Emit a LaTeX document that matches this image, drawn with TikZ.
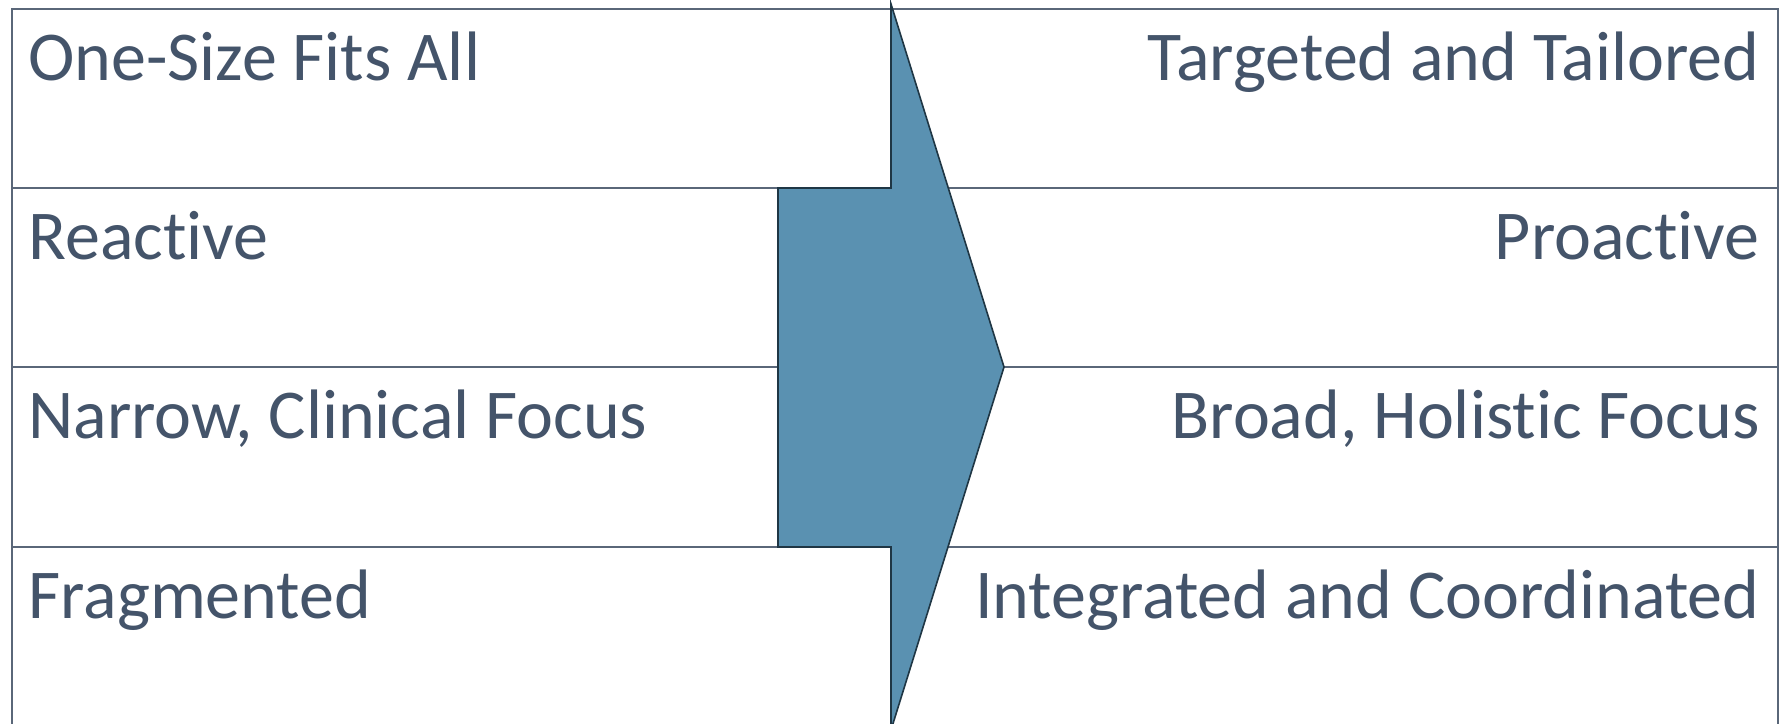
\documentclass[tikz,border=0pt]{standalone}
\usepackage{fontspec}
\setmainfont{Carlito}[Ligatures={NoCommon}]
\definecolor{slate}{HTML}{44546A}
\definecolor{rule}{HTML}{5A6779}
\definecolor{steel}{HTML}{5A91B1}
\definecolor{steeledge}{HTML}{1F3644}
\begin{document}
\begin{tikzpicture}[x=0.5pt,y=-0.5pt,
  cell/.style={draw=rule, line width=1pt, fill=white},
  lefttext/.style={anchor=base west, inner sep=0pt, text=slate, font=\fontsize{35}{42}\selectfont},
  righttext/.style={anchor=base east, inner sep=0pt, text=slate, font=\fontsize{35}{42}\selectfont},
  bigarrow/.style={fill=steel, draw=steeledge, line width=0.8pt, line join=miter}]
  \useasboundingbox (0,0) rectangle (1783,723);
  \clip (0,0) rectangle (1783,723);

  % left column
  \draw[cell] (12,9) rectangle (891,188);
  \draw[cell] (12,188) rectangle (891,367);
  \draw[cell] (12,367) rectangle (891,547);
  \draw[cell] (12,547) rectangle (891,728);

  % right column
  \draw[cell] (891,9) rectangle (1778,188);
  \draw[cell] (891,188) rectangle (1778,367);
  \draw[cell] (891,367) rectangle (1778,547);
  \draw[cell] (891,547) rectangle (1778,728);

  % arrow
  \draw[bigarrow] (778,188) -- (891,188) -- (891,4) -- (1004,367)
    -- (891,730) -- (891,547) -- (778,547) -- cycle;

  \node[lefttext] (one) at (28,80) {One-Size Fits All};
  \node[lefttext] (reac) at (28,259) {Reactive};
  \node[lefttext] (narrow) at (28,438) {Narrow, Clinical Focus};
  \node[lefttext] (frag) at (28,618) {Fragmented};

  \node[righttext] (target) at (1760,80) {Targeted and Tailored};
  \node[righttext] (proac) at (1760,259) {Proactive};
  \node[righttext] (broad) at (1760,438) {Broad, Holistic Focus};
  \node[righttext] (integ) at (1760,618) {Integrated and Coordinated};
\end{tikzpicture}
\end{document}
